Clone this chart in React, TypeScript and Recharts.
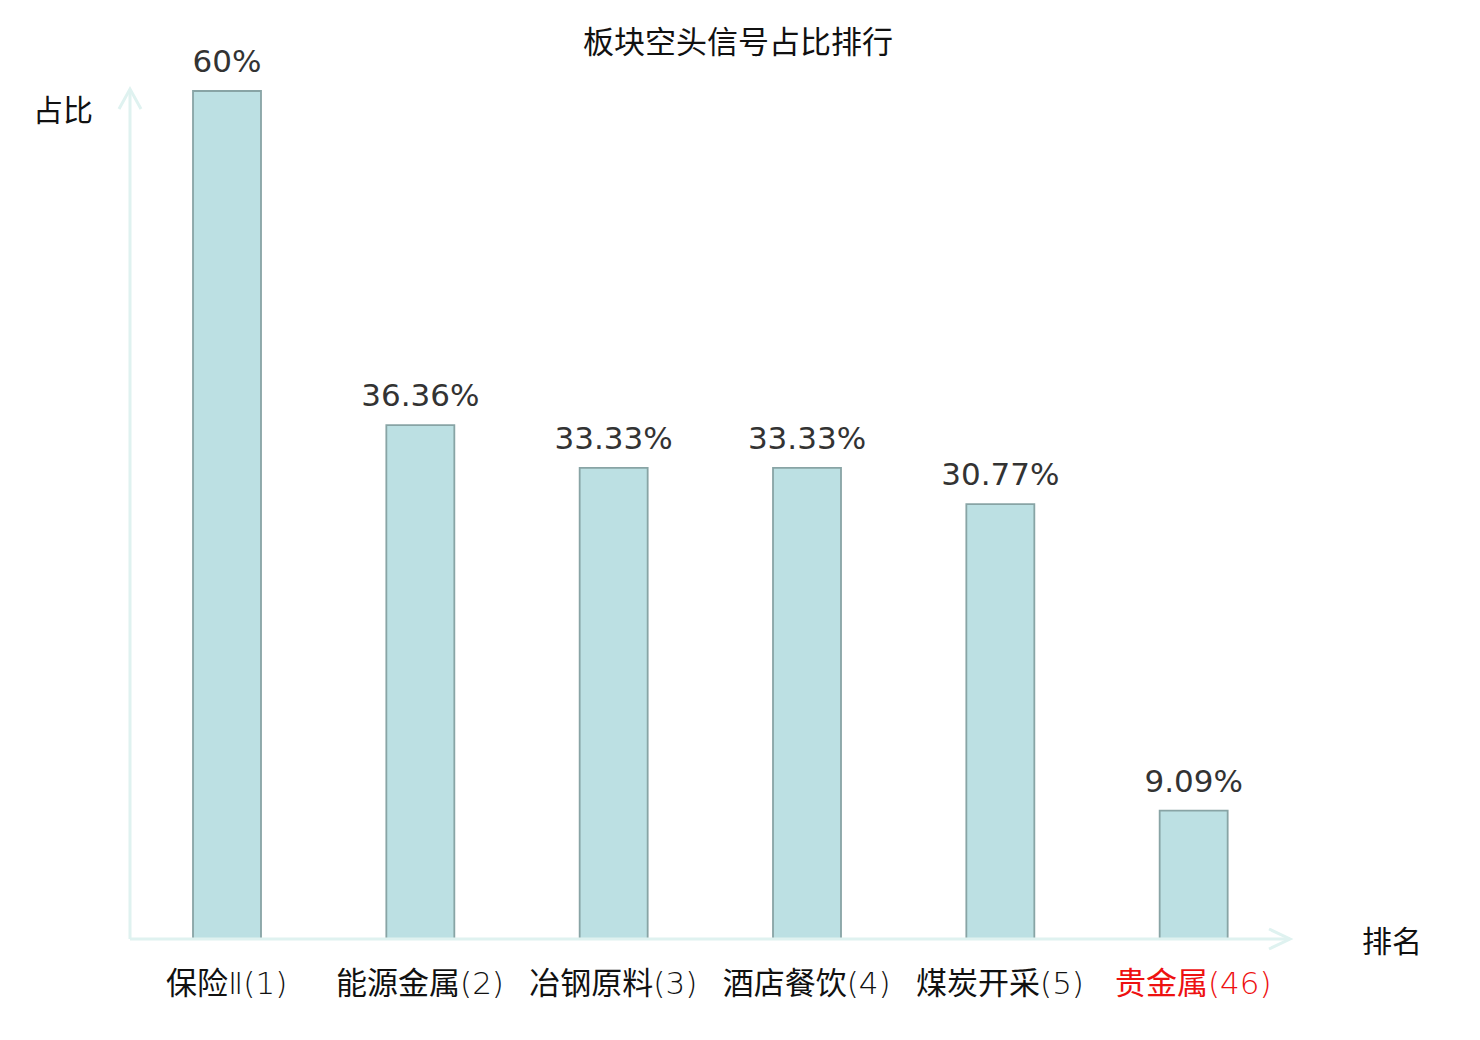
import React from "react";
import { Bar, BarChart, LabelList, XAxis, YAxis } from "recharts";

const categories = ["保险Ⅱ(1)", "能源金属(2)", "冶钢原料(3)", "酒店餐饮(4)", "煤炭开采(5)", "贵金属(46)"];
const shares = [60, 36.36, 33.33, 33.33, 30.77, 9.09];
const highlighted = ["贵金属(46)"];

const W = 1480;
const H = 1040;
const M = { top: 91, right: 190, left: 130, bottom: 41 };
const XAXIS_H = 60;
const FONT = "'DejaVu Sans', 'Noto Sans CJK SC', sans-serif";
const LIGHT = "'DejaVu Sans ExtraLight', 'DejaVu Sans', sans-serif";
const AXIS = "#dff2f0";

const data = categories.map((name, i) => ({ name, value: shares[i] }));

function CatTick(props: any) {
  const { x, y, payload } = props;
  const red = highlighted.includes(payload.value);
  const s = String(payload.value);
  // the CJK part is drawn normally, the roman numeral and the rank in a light face
  let cut = s.search(/[Ⅰ-Ⅻ(]/);
  if (cut < 0) cut = s.length;
  return (
    <text
      x={x}
      y={y}
      dy="0.71em"
      textAnchor="middle"
      fontSize={31}
      fontFamily={FONT}
      fill={red ? "#ee1111" : "#111"}
    >
      <tspan>{s.slice(0, cut)}</tspan>
      <tspan fontFamily={LIGHT} fontWeight={200}>{s.slice(cut)}</tspan>
    </text>
  );
}

export default function App() {
  const plotRight = W - M.right;
  const plotBottom = H - M.bottom - XAXIS_H;
  return (
    <div style={{ position: "absolute", left: 0, top: 0, width: W, height: H, background: "#fff" }}>
      <BarChart width={W} height={H} data={data} margin={M}>
        <XAxis
          dataKey="name"
          height={XAXIS_H}
          axisLine={{ stroke: AXIS, strokeWidth: 3 }}
          tickLine={false}
          tickSize={0}
          tickMargin={33}
          tick={<CatTick />}
          interval={0}
        />
        <YAxis width={0} domain={[0, 60]} axisLine={false} tick={false} tickLine={false} />
        <Bar
          dataKey="value"
          barSize={68}
          fill="#bce0e3"
          stroke="#88a4a5"
          strokeWidth={1.8}
          isAnimationActive={false}
        >
          <LabelList
            dataKey="value"
            position="top"
            offset={19}
            formatter={(v: any) => `${v}%`}
            fill="#333"
            fontSize={31}
            fontFamily={FONT}
          />
        </Bar>
      </BarChart>
      <svg
        width={W}
        height={H}
        style={{ position: "absolute", left: 0, top: 0, pointerEvents: "none" }}
        fontFamily={FONT}
      >
        <text x={738} y={53} textAnchor="middle" fontSize={31} fill="#111">
          板块空头信号占比排行
        </text>
        <line x1={M.left} y1={plotBottom} x2={M.left} y2={89} stroke={AXIS} strokeWidth={3} />
        <polyline
          points={`${M.left - 11},109 ${M.left},89 ${M.left + 11},109`}
          fill="none"
          stroke={AXIS}
          strokeWidth={3}
        />
        <polyline
          points={`${plotRight - 21},${plotBottom - 10} ${plotRight},${plotBottom} ${plotRight - 21},${plotBottom + 10}`}
          fill="none"
          stroke={AXIS}
          strokeWidth={3}
        />
        <text x={63} y={121} textAnchor="middle" fontSize={30} fill="#111">
          占比
        </text>
        <text x={1392} y={952} textAnchor="middle" fontSize={30} fill="#111">
          排名
        </text>
      </svg>
    </div>
  );
}
